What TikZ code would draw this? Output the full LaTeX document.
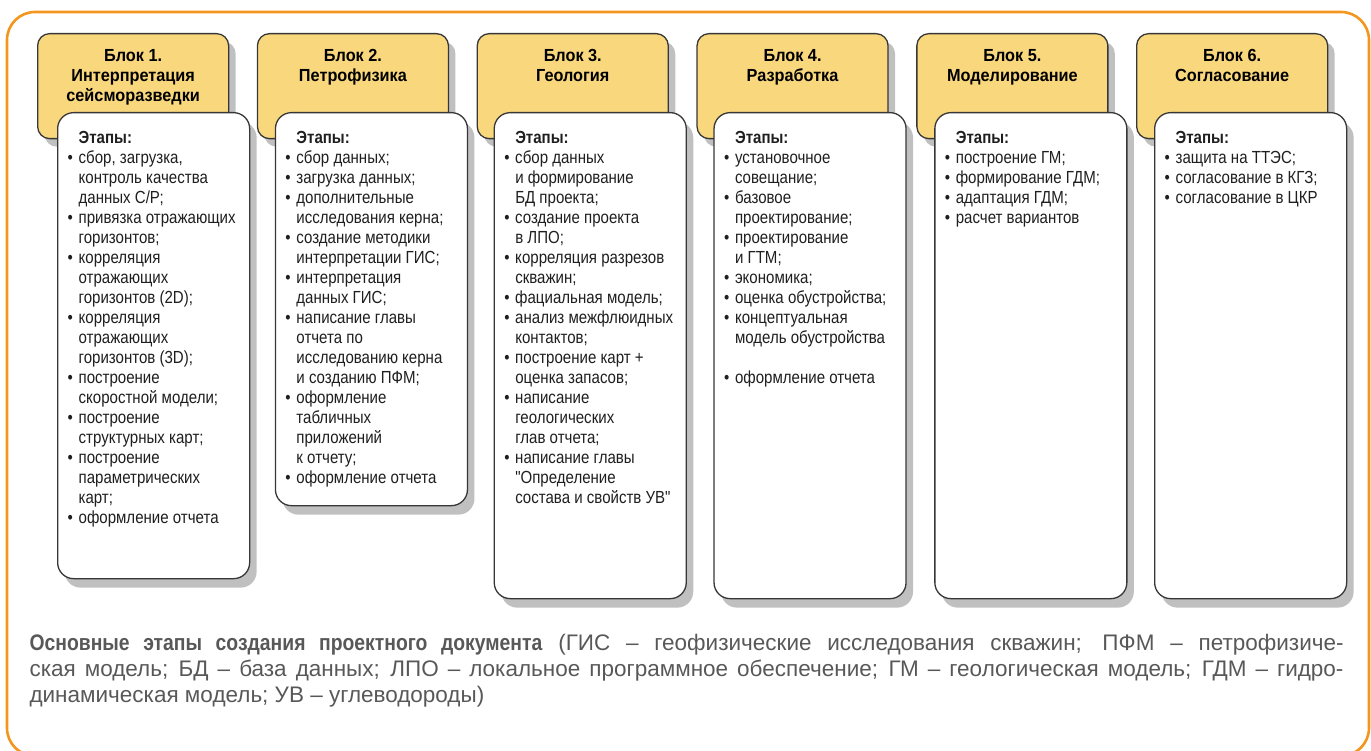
\documentclass[tikz,border=0pt]{standalone}
\usepackage{fontspec}
\setmainfont{Liberation Sans}
\newfontfamily\condfont[FakeStretch=0.86]{Liberation Sans}
\newfontfamily\headfont[FakeStretch=0.93]{Liberation Sans}
\newfontfamily\notefont[BoldFeatures={FakeStretch=0.86}]{Liberation Sans}
\usetikzlibrary{positioning,shadows}
\definecolor{FrameOrange}{RGB}{244,150,30}
\definecolor{HeadYellow}{RGB}{249,215,125}
\definecolor{EdgeGray}{RGB}{55,55,55}
\definecolor{ShadowGray}{RGB}{192,192,192}
\definecolor{NoteGray}{RGB}{88,88,88}
% one bullet item with hanging indent
\newcommand{\itm}{\par\noindent\hangindent=11pt\hangafter=1\hbox to 11pt{\textbullet\hss}}
\newcommand{\etapy}{\noindent\hspace*{11pt}\textbf{Этапы:}}
\newcommand{\headtext}[1]{\parbox[t][73pt][t]{183pt}{\centering\headfont\bfseries\fontsize{17.5}{20}\selectfont #1}}
\newcommand{\stagetext}[2]{\parbox[t][#1][t]{172pt}{\raggedright\condfont\fontsize{17.5}{20}\selectfont\color{black!88}\etapy #2}}
\tikzset{
  blockhead/.style={draw=EdgeGray,line width=1.3pt,fill=HeadYellow,rounded corners=12pt,
    inner xsep=4pt,inner ysep=16pt,anchor=north west,
    drop shadow={shadow xshift=7pt,shadow yshift=-8pt,fill=ShadowGray,opacity=1}},
  stagebox/.style={draw=EdgeGray,line width=1.3pt,fill=white,rounded corners=16pt,
    inner xsep=10pt,inner ysep=19pt,
    drop shadow={shadow xshift=7pt,shadow yshift=-9pt,fill=ShadowGray,opacity=1}},
  frame/.style={draw=FrameOrange,line width=2.6pt,rounded corners=28pt},
  note/.style={anchor=north west,align=left,text=NoteGray,font=\notefont\fontsize{22.5}{26}\selectfont},
}
\begin{document}
\begin{tikzpicture}[x=1pt,y=-1pt,node distance=27.5pt]
  \useasboundingbox (0,0) rectangle (1371,751);
  \draw[frame] (7,12) rectangle (1369,756);
  % block headers
  \node[blockhead] (h1) at (37,33) {\headtext{Блок 1.\\ Интерпретация\\ сейсморазведки}};
  \node[blockhead,right=of h1] (h2) {\headtext{Блок 2.\\ Петрофизика}};
  \node[blockhead,right=of h2] (h3) {\headtext{Блок 3.\\ Геология}};
  \node[blockhead,right=of h3] (h4) {\headtext{Блок 4.\\ Разработка}};
  \node[blockhead,right=of h4] (h5) {\headtext{Блок 5.\\ Моделирование}};
  \node[blockhead,right=of h5] (h6) {\headtext{Блок 6.\\ Согласование}};
  % stages
  \node[stagebox,below right=79pt and 20pt of h1.north west] (b1) {\stagetext{428pt}{%
    \itm сбор, загрузка,\newline контроль качества\newline данных С/Р;
    \itm привязка отражающих\newline горизонтов;
    \itm корреляция\newline отражающих\newline горизонтов (2D);
    \itm корреляция\newline отражающих\newline горизонтов (3D);
    \itm построение\newline скоростной модели;
    \itm построение\newline структурных карт;
    \itm построение\newline параметрических\newline карт;
    \itm оформление отчета}};
  \node[stagebox,below right=79pt and 18pt of h2.north west] (b2) {\stagetext{355pt}{%
    \itm сбор данных;
    \itm загрузка данных;
    \itm дополнительные\newline исследования керна;
    \itm создание методики\newline интерпретации ГИС;
    \itm интерпретация\newline данных ГИС;
    \itm написание главы\newline отчета по\newline исследованию керна\newline и созданию ПФМ;
    \itm оформление\newline табличных\newline приложений\newline к отчету;
    \itm оформление отчета}};
  \node[stagebox,below right=79pt and 17pt of h3.north west] (b3) {\stagetext{448pt}{%
    \itm сбор данных\newline и формирование\newline БД проекта;
    \itm создание проекта\newline в ЛПО;
    \itm корреляция разрезов\newline скважин;
    \itm фациальная модель;
    \itm анализ межфлюидных\newline контактов;
    \itm построение карт +\newline оценка запасов;
    \itm написание\newline геологических\newline глав отчета;
    \itm написание главы\newline "Определение\newline состава и свойств УВ"}};
  \node[stagebox,below right=79pt and 17pt of h4.north west] (b4) {\stagetext{448pt}{%
    \itm установочное\newline совещание;
    \itm базовое\newline проектирование;
    \itm проектирование\newline и ГТМ;
    \itm экономика;
    \itm оценка обустройства;
    \itm концептуальная\newline модель обустройства\par\vspace{20pt}
    \itm оформление отчета}};
  \node[stagebox,below right=79pt and 18pt of h5.north west] (b5) {\stagetext{448pt}{%
    \itm построение ГМ;
    \itm формирование ГДМ;
    \itm адаптация ГДМ;
    \itm расчет вариантов}};
  \node[stagebox,below right=79pt and 18pt of h6.north west] (b6) {\stagetext{448pt}{%
    \itm защита на ТТЭС;
    \itm согласование в КГЗ;
    \itm согласование в ЦКР}};
  % caption
  \node[note] (cap) at (26,631) {%
    \makebox[1314pt][s]{\textbf{Основные этапы создания проектного документа} (ГИС – геофизические исследования скважин; ПФМ – петрофизиче-}\\
    \makebox[1314pt][s]{ская модель; БД – база данных; ЛПО – локальное программное обеспечение; ГМ – геологическая модель; ГДМ – гидро-}\\
    динамическая модель; УВ – углеводороды)};
\end{tikzpicture}
\end{document}
